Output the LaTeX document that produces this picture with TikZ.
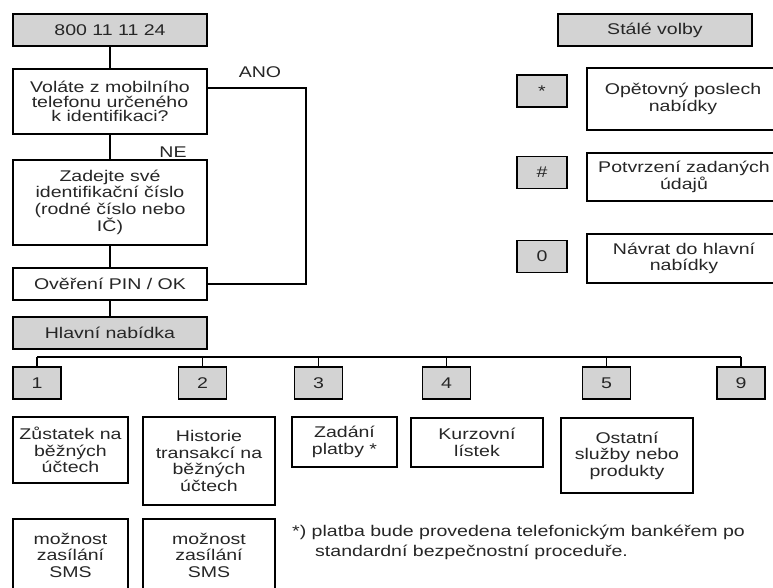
\documentclass[tikz,border=0pt]{standalone}
\usepackage{fontspec}
\setmainfont{Liberation Sans}[FakeStretch=1.26]
\usetikzlibrary{positioning}
\definecolor{keygray}{RGB}{211,211,211}

\begin{document}
\begin{tikzpicture}[x=1pt, y=-1pt, font=\fontsize{15.5}{16.5}\selectfont, box/.style={draw=black, line width=1.9pt, inner sep=0pt, align=center, text=black!85}, key/.style={box, fill=keygray, minimum height=32pt}, wire/.style={line width=1.4pt}]
	\useasboundingbox (0,0) rectangle (773,588);
	\clip (0,0) rectangle (773,588);

	% left column
	\node[key, minimum width=194pt] (phone) at (110,30) {800 11 11 24};
	\node[box, minimum width=194pt, minimum height=65pt, font=\fontsize{15.5}{14.5}\selectfont] (mobile) at (110,101.5) {Voláte z mobilního\\telefonu určeného\\k identifikaci?};
	\node[box, minimum width=194pt, minimum height=85pt] (ident) at (110,202.5) {Zadejte své\\identifikační číslo\\(rodné číslo nebo\\IČ)};
	\node[box, minimum width=194pt, minimum height=32pt] (pin) at (110,284) {Ověření PIN / OK};
	\node[key, minimum width=194pt] (menu) at (110,333) {Hlavní nabídka};
	\node[text=black!85] (yes) at (260,72) {ANO};
	\node[text=black!85] (no) at (173,152) {NE};

	% fixed options
	\node[key, minimum width=194pt] (fixed) at (655,30) {Stálé volby};
	\node[key, minimum width=50pt] (kstar) at (542,91) {*};
	\node[box, minimum width=192pt, minimum height=62pt] (repeat) at (683,99) {Opětovný poslech\\nabídky};
	\node[key, minimum width=50pt] (khash) at (542,172.5) {\#};
	\node[box, minimum width=194pt, minimum height=48pt] (confirm) at (684,177) {Potvrzení zadaných\\údajů};
	\node[key, minimum width=50pt] (kzero) at (542,256.5) {0};
	\node[box, minimum width=194pt, minimum height=49pt] (back) at (684,258.5) {Návrat do hlavní\\nabídky};

	% menu keys
	\node[key, minimum width=48pt] (k1) at (37,383) {1};
	\node[key, minimum width=48pt] (k2) at (202.5,383) {2};
	\node[key, minimum width=48pt] (k3) at (318.5,383) {3};
	\node[key, minimum width=48pt] (k4) at (446.5,383) {4};
	\node[key, minimum width=48pt] (k5) at (606.5,383) {5};
	\node[key, minimum width=48pt] (k9) at (741,383) {9};

	\node[box, minimum width=115pt, minimum height=66pt] (balance) at (70.5,450) {Zůstatek na\\běžných\\účtech};
	\node[box, minimum width=132pt, minimum height=88pt] (history) at (209,461) {Historie\\transakcí na\\běžných\\účtech};
	\node[box, minimum width=105pt, minimum height=50pt] (payment) at (344.5,442) {Zadání\\platby *};
	\node[box, minimum width=132pt, minimum height=49pt] (rates) at (477,442.5) {Kurzovní\\lístek};
	\node[box, minimum width=132pt, minimum height=75pt] (others) at (627,455.5) {Ostatní\\služby nebo\\produkty};
	\node[box, minimum width=115pt, minimum height=72pt] (sms1) at (70.5,555) {možnost\\zasílání\\SMS};
	\node[box, minimum width=132pt, minimum height=72pt] (sms2) at (209,555) {možnost\\zasílání\\SMS};
	\node[anchor=north west, align=left, inner sep=0pt, text=black!85, font=\fontsize{15.5}{20}\selectfont] (note) at (292,525) {*) platba bude provedena telefonickým bankéřem po\\\hspace*{23pt}standardní bezpečnostní proceduře.};

	\coordinate (turn) at (306,88);
	\coordinate (bus) at (0,357);

	\path[wire] (phone) edge (mobile)
	         (mobile) edge (ident)
	         (ident) edge (pin)
	         (pin) edge (menu);
	\draw[wire] (mobile.east |- turn) -- (turn) |- (pin.east);
	\draw[wire] (k1.north |- bus) -- (k9.north |- bus);
	\foreach \k in {k1,k2,k3,k4,k5,k9}
		\draw[wire] (\k.north |- bus) -- (\k.north);

\end{tikzpicture}
\end{document}
